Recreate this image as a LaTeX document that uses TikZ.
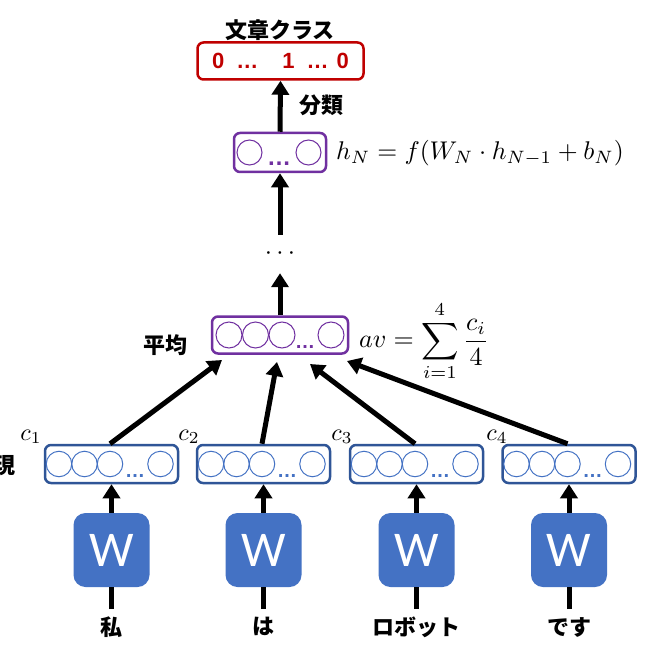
\documentclass[tikz,border=0pt]{standalone}
\usepackage{graphicx}
\usepackage{fontspec}
\usetikzlibrary{arrows.meta}
\newfontfamily\jpfont{Noto Sans CJK JP}
\newfontfamily\arialfont{Liberation Sans}
\newfontfamily\wfont{Carlito}
\definecolor{myred}{HTML}{C00000}
\definecolor{mypurple}{HTML}{7030A0}
\definecolor{boxblue}{HTML}{2F5597}
\definecolor{circblue}{HTML}{4472C4}
\definecolor{wblue}{HTML}{4472C4}
\newcommand{\mathbig}[2][2.5]{\scalebox{#1}{#2}}
\tikzset{
  arr/.style={line width=5pt,-{Triangle[width=17pt,length=14pt]}},
  plain/.style={line width=5pt},
  jp/.style={font=\jpfont\bfseries\fontsize{22}{26}\selectfont,inner sep=0pt},
  bluebox/.style={draw=boxblue,line width=2.5pt,rounded corners=6pt,minimum width=133pt,minimum height=38pt,inner sep=0pt},
  bcirc/.style={circle,draw=circblue,line width=1pt,minimum size=25.5pt,inner sep=0pt},
  bdots/.style={anchor=base,inner sep=0pt,text=circblue,font=\arialfont\bfseries\fontsize{20}{22}\selectfont},
  pbox/.style={draw=mypurple,line width=2.5pt,rounded corners=6pt,inner sep=0pt},
  pcirc/.style={circle,draw=mypurple,line width=1pt,minimum size=26pt,inner sep=0pt},
  pdots/.style={anchor=base,inner sep=0pt,text=mypurple,font=\arialfont\bfseries\fontsize{20}{22}\selectfont},
  redbox/.style={draw=myred,line width=2.5pt,rounded corners=6pt,minimum width=166pt,minimum height=37pt,inner sep=0pt,text=myred,font=\arialfont\bfseries\fontsize{22}{26}\selectfont},
  wbox/.style={fill=wblue,rounded corners=12pt,minimum width=76pt,minimum height=74pt,inner sep=0pt,text=white,font=\wfont\fontsize{50}{50}\selectfont},
  mathlbl/.style={inner sep=0pt},
}
\begin{document}
\begin{tikzpicture}[x=1pt,y=-1pt]
\fill[white] (0,0) rectangle (655,655);
\useasboundingbox (0,0) rectangle (655,655);

% top class output
\node[jp] (title) at (280,30) {文章クラス};
\node[redbox] (cls) at (280.5,61) {0\hspace{12pt}…\hspace{24pt}1\hspace{12pt}…\hspace{8pt}0};

% top hidden layer
\node[pbox,minimum width=92pt,minimum height=39pt] (hN) at (280,152.5) {};
\node[pcirc,minimum size=25pt] (hNc1) at (249.5,152.5) {};
\node[pcirc,minimum size=25pt] (hNc2) at (308.5,152.5) {};
\node[pdots,font=\arialfont\bfseries\fontsize{24}{26}\selectfont] (hNd) at (279,165) {…};
\node[mathlbl,anchor=west] (fh) at (336,153) {\mathbig[2.56]{$h_N = f(W_N\cdot h_{N-1}+b_N)$}};
\draw[arr] (hN.north) -- (cls.south);
\node[jp] (bunrui) at (321,105) {分類};

% dots
\node[inner sep=0pt,minimum height=38pt] (dd) at (280,254) {\mathbig[2.6]{$\cdots$}};
\draw[arr] (dd.north) -- (hN.south);

% average layer
\node[pbox,minimum width=136pt,minimum height=37pt] (avg) at (280,335) {};
\node[pcirc] (avc1) at (229,335) {};
\node[pcirc] (avc2) at (255.5,335) {};
\node[pcirc] (avc3) at (282,335) {};
\node[pdots] (avd) at (305,348) {…};
\node[pcirc] (avc4) at (331,335) {};
\node[jp] (heikin) at (165,345) {平均};
\node[mathlbl,anchor=west] (avf) at (359,341) {\mathbig[2.6]{$\displaystyle av=\sum_{i=1}^{4}\frac{c_i}{4}$}};
\draw[arr] (avg.north) -- (dd.south);

% arrow ends at average layer
\coordinate (e1) at (222,360);
\coordinate (e2) at (277,362);
\coordinate (e3) at (310,364);
\coordinate (e4) at (347,361);

% word vectors
\foreach \i/\x/\t in {1/111.5/私,2/263.5/は,3/416.5/ロボット,4/569/です}{
  \node[bluebox] (b\i) at (\x,464) {};
  \node[bcirc] (b\i-c1) at (\x-52.5,464) {};
  \node[bcirc] (b\i-c2) at (\x-27,464) {};
  \node[bcirc] (b\i-c3) at (\x-1.5,464) {};
  \node[bdots] (b\i-d) at (\x+23.5,477) {…};
  \node[bcirc] (b\i-c4) at (\x+49,464) {};
  \node[wbox] (w\i) at (\x,550) {W};
  \node[jp,anchor=north,inner xsep=0pt,inner ysep=8pt] (t\i) at (\x,609) {\t};
  \draw[arr] (w\i.north) -- (b\i.south);
  \draw[plain] (t\i.north) -- (w\i.south);
  \draw[arr] (b\i-c3 |- b\i.north) -- (e\i);
}

% c labels
\node[mathlbl] (c1) at (31,437) {\mathbig[2.4]{$c_1$}};
\node[mathlbl] (c2) at (189,437) {\mathbig[2.4]{$c_2$}};
\node[mathlbl] (c3) at (342,437) {\mathbig[2.4]{$c_3$}};
\node[mathlbl] (c4) at (497,437) {\mathbig[2.4]{$c_4$}};
\node[jp,anchor=east] (gen) at (16,466) {現};
\end{tikzpicture}
\end{document}
